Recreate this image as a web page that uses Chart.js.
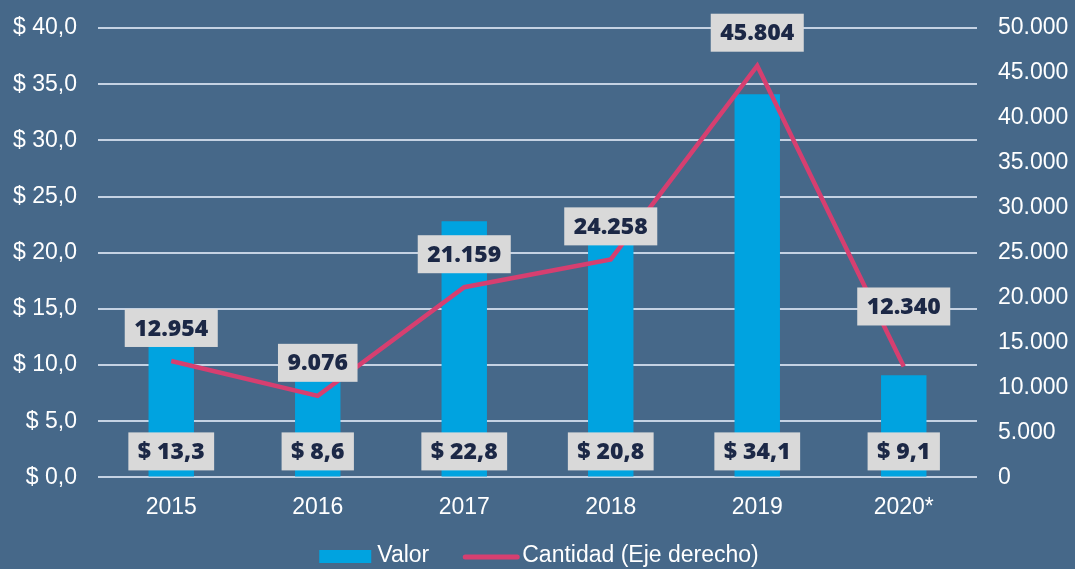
<!DOCTYPE html>
<html>
<head>
<meta charset="utf-8">
<script src="https://cdn.jsdelivr.net/npm/chart.js@4.4.0/dist/chart.umd.min.js"></script>
<style>
    html, body { margin: 0; padding: 0; background: #466889; }
    #wrap { width: 1075px; height: 569px; }
</style>
</head>
<body>
<div id="wrap"><canvas id="chart"></canvas></div>
<script>
// Chart data
const years = ['2015', '2016', '2017', '2018', '2019', '2020*'];
const valor = [13.3, 8.6, 22.8, 20.8, 34.1, 9.1];
const cantidad = [12954, 9076, 21159, 24258, 45804, 12340];
const seriesNames = ['Valor', 'Cantidad (Eje derecho)'];

const BAR_COLOR = '#00a3e0';
const LINE_COLOR = '#d63f70';
const BOX_COLOR = '#d9d9d9';
const LABEL_COLOR = '#1c2846';
const AXIS_FONT = '"Liberation Sans", Arial, sans-serif';

function fmtValor(v) {
    return '$ ' + v.toFixed(1).replace('.', ',');
}

function fmtCantidad(v) {
    return v.toLocaleString('de-DE');
}

// Fixed side axis width, no extra vertical padding from tick labels
function fixSideAxis(scale) {
    scale.width = 98;
    scale.paddingTop = 0;
    scale.paddingBottom = 0;
}

// Draws a gray box with bold text centred on (x, y)
function drawBoxLabel(ctx, text, x, y) {
    ctx.font = '800 23px "Open Sans", sans-serif';
    const w = ctx.measureText(text).width + 19;
    const h = 38;
    ctx.fillStyle = BOX_COLOR;
    ctx.fillRect(x - w / 2, y - h / 2, w, h);
    ctx.fillStyle = LABEL_COLOR;
    ctx.textAlign = 'center';
    ctx.textBaseline = 'middle';
    ctx.fillText(text, x, y + 1);
}

const labelPlugin = {
    id: 'boxLabels',
    afterDatasetsDraw(chart) {
        const ctx = chart.ctx;
        const yBase = chart.scales.y.getPixelForValue(0);
        ctx.save();
        chart.getDatasetMeta(0).data.forEach((bar, i) => {
            drawBoxLabel(ctx, fmtValor(valor[i]), bar.x, yBase - 26);
        });
        chart.getDatasetMeta(1).data.forEach((pt, i) => {
            const off = i === cantidad.length - 1 ? 60 : 33;
            drawBoxLabel(ctx, fmtCantidad(cantidad[i]), pt.x, pt.y - off);
        });
        ctx.restore();
    }
};

// Simple legend at the bottom: bar swatch + line swatch
const legendPlugin = {
    id: 'bottomLegend',
    afterDraw(chart) {
        const ctx = chart.ctx;
        const y = 556;
        ctx.save();
        ctx.font = '23px ' + AXIS_FONT;
        const w0 = ctx.measureText(seriesNames[0]).width;
        const w1 = ctx.measureText(seriesNames[1]).width;
        const total = 52 + 6 + w0 + 35 + 56 + 3 + w1;
        let x = chart.width / 2 - total / 2 + 2;

        ctx.fillStyle = BAR_COLOR;
        ctx.fillRect(x, y - 6, 52, 13);
        x += 58;
        ctx.fillStyle = '#ffffff';
        ctx.textAlign = 'left';
        ctx.textBaseline = 'middle';
        ctx.fillText(seriesNames[0], x, y);
        x += w0 + 34;

        ctx.strokeStyle = LINE_COLOR;
        ctx.lineWidth = 5;
        ctx.lineCap = 'round';
        ctx.beginPath();
        ctx.moveTo(x + 2, y + 1);
        ctx.lineTo(x + 54, y + 1);
        ctx.stroke();
        x += 59;
        ctx.fillText(seriesNames[1], x, y);
        ctx.restore();
    }
};

const ctx = document.getElementById('chart').getContext('2d');
new Chart(ctx, {
    type: 'bar',
    data: {
        labels: years,
        datasets: [{
            label: seriesNames[0],
            data: valor,
            backgroundColor: BAR_COLOR,
            yAxisID: 'y',
            barPercentage: 0.31,
            categoryPercentage: 1,
            order: 2
        }, {
            type: 'line',
            label: seriesNames[1],
            data: cantidad,
            borderColor: LINE_COLOR,
            borderWidth: 4.5,
            pointRadius: 0,
            tension: 0,
            yAxisID: 'y1',
            order: 1
        }]
    },
    options: {
        responsive: true,
        maintainAspectRatio: false,
        animation: false,
        layout: { padding: { left: 0, right: 0, top: 28, bottom: 32 } },
        plugins: {
            tooltip: { enabled: false },
            legend: { display: false }
        },
        scales: {
            x: {
                grid: { display: false, drawTicks: false },
                border: { display: false },
                ticks: {
                    color: '#ffffff',
                    font: { family: AXIS_FONT, size: 23 },
                    padding: 16
                }
            },
            y: {
                position: 'left',
                min: 0,
                max: 40,
                afterFit: fixSideAxis,
                ticks: {
                    stepSize: 5,
                    color: '#ffffff',
                    font: { family: AXIS_FONT, size: 23 },
                    padding: 21,
                    callback: v => fmtValor(v)
                },
                grid: { color: '#c5d2e3', lineWidth: 2, drawTicks: false },
                border: { display: false }
            },
            y1: {
                position: 'right',
                min: 0,
                max: 50000,
                afterFit: fixSideAxis,
                ticks: {
                    stepSize: 5000,
                    color: '#ffffff',
                    font: { family: AXIS_FONT, size: 23 },
                    padding: 21,
                    callback: v => fmtCantidad(v)
                },
                grid: { display: false, drawTicks: false },
                border: { display: false }
            }
        }
    },
    plugins: [labelPlugin, legendPlugin]
});
</script>
</body>
</html>
